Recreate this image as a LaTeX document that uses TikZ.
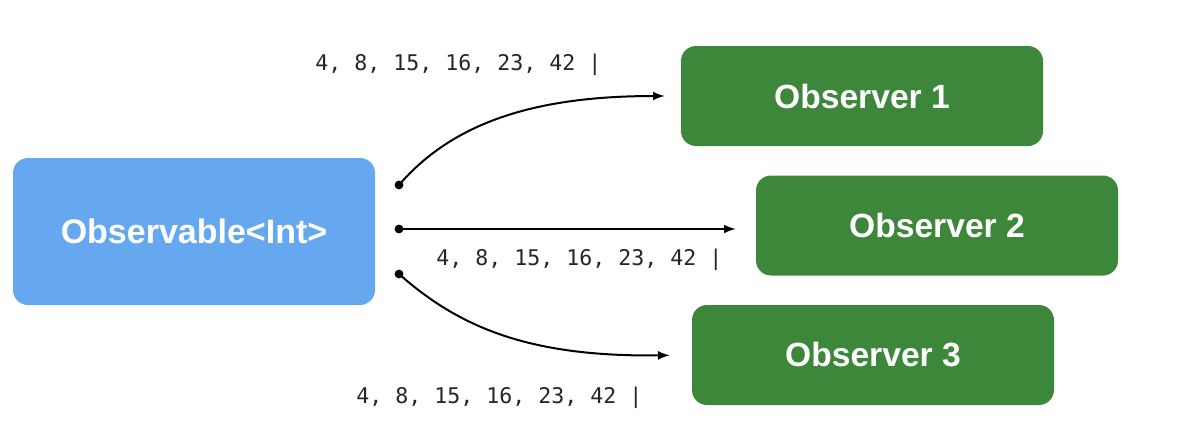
\documentclass[tikz,border=0pt]{standalone}
\usepackage{fontspec}
\setmainfont{Liberation Sans}
\setmonofont{DejaVu Sans Mono}
\usepackage{tikz}
\usetikzlibrary{arrows}
\definecolor{srcblue}{RGB}{102,168,240}
\definecolor{obsgreen}{RGB}{60,135,58}
\tikzstyle{source} = [rectangle, rounded corners=7.5pt, fill=srcblue, minimum width=181pt, minimum height=73.5pt, text=white, font=\fontsize{17}{20}\selectfont\bfseries]
\tikzstyle{observer} = [rectangle, rounded corners=7.5pt, fill=obsgreen, minimum width=181pt, minimum height=50pt, text=white, font=\fontsize{16.8}{20}\selectfont\bfseries]
\tikzstyle{stream} = [line width=1pt,->,>=latex]
\tikzstyle{values} = [anchor=base west, inner sep=0pt, text=black!85, font=\fontsize{10.8}{13}\selectfont\ttfamily]

\begin{document}
\begin{tikzpicture}[x=0.5pt,y=-0.5pt]
  \useasboundingbox (0,0) rectangle (1190,446);
  \node[source] (src) at (194,231.5) {Observable<Int>};
  \node[observer] (obs1) at (862,96) {Observer 1};
  \node[observer] (obs2) at (937,225.5) {Observer 2};
  \node[observer] (obs3) at (873,355) {Observer 3};
  % emission points
  \coordinate (out1) at (399,185);
  \coordinate (out2) at (399,229);
  \coordinate (out3) at (399,274);
  \foreach \p in {out1,out2,out3}
    \fill (\p) circle (2.2pt);
  \draw[stream, shorten >=8pt] (out1) .. controls (455,120) and (540,96) .. (obs1.west);
  \draw[stream, shorten >=10pt] (out2) -- (obs2.west |- out2);
  \draw[stream, shorten >=11pt] (out3) .. controls (460,328) and (530,357) .. (obs3.west);
  \node[values] (vals1) at (315,70) {4, 8, 15, 16, 23, 42 |};
  \node[values] (vals2) at (436,265) {4, 8, 15, 16, 23, 42 |};
  \node[values] (vals3) at (356,403) {4, 8, 15, 16, 23, 42 |};
\end{tikzpicture}
\end{document}
